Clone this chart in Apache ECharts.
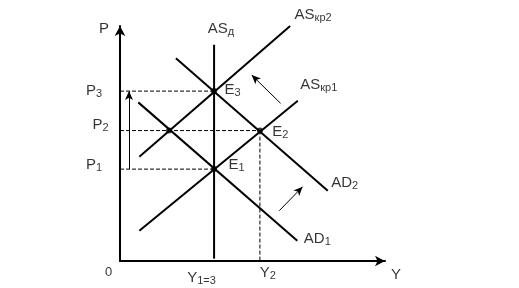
<!DOCTYPE html>
<html>
<head>
<meta charset="utf-8">
<script src="https://cdn.jsdelivr.net/npm/echarts@6/dist/echarts.min.js"></script>
<style>html,body{margin:0;padding:0;background:#fff;}#c{width:519px;height:288px;}</style>
</head>
<body>
<div id="c"></div>
<script>
// ---- values (axis range 0..100 on both axes) ----
const Y1 = 35.5, Y2 = 52.8;            // outputs
const P1 = 39.1, P2 = 55.5, P3 = 72.3; // price levels
const xLeft = 18.5;                     // AS_kr2 x AD1 at P2

const asLongRun = [[Y1, 92], [Y1, 1]];
const asShort1 = [[7.3, 12.9], [67.1, 68.2]];
const asShort2 = [[7.3, 44.4], [64.2, 100]];
const ad1 = [[6.9, 67.5], [66.9, 8.6]];
const ad2 = [[21.1, 86.3], [78.4, 29.9]];

const equilibria = [[Y1, P3], [Y2, P2], [Y1, P1], [xLeft, P2]];
const guideLines = [
  [[0, P3], [Y1, P3]],
  [[0, P2], [Y2, P2]],
  [[0, P1], [Y1, P1]],
  [[Y2, P2], [Y2, 0]]
];
const shiftArrows = [
  [[3.4, P1], [3.4, P3]],
  [[60.6, 67.1], [49.7, 79.1]],
  [[60.1, 21.4], [68.9, 31.6]]
];

const tickLabelsP = ['{m|P}{s|3}', '{m|P}{s|2}', '{m|P}{s|1}'];
const tickLabelsY = ['{m|Y}{s|1=3}', '{m|Y}{s|2}'];
const curveNames = ['{m|AS}{s|д}', '{m|AS}{s|кр2}', '{m|AS}{s|кр1}', '{m|AD}{s|2}', '{m|AD}{s|1}'];
const pointNames = ['{m|E}{s|3}', '{m|E}{s|2}', '{m|E}{s|1}'];
const axisNames = ['{m|P}', '{m|Y}', '{z|0}'];

// ---- label placement: anchor in data coords + pixel offset ----
const labelItems = [
  {t: tickLabelsP[0], a: [0, P3], o: [-26, 0]},
  {t: tickLabelsP[1], a: [0, P2], o: [-19.5, -5.6]},
  {t: tickLabelsP[2], a: [0, P1], o: [-26, -4]},
  {t: tickLabelsY[0], a: [Y1, 0], o: [-12.6, 17]},
  {t: tickLabelsY[1], a: [Y2, 0], o: [8, 12]},
  {t: curveNames[0], a: asLongRun[0], o: [7, -16]},
  {t: curveNames[1], a: asShort2[1], o: [23, -11.3]},
  {t: curveNames[2], a: asShort1[1], o: [21, -15.4]},
  {t: curveNames[3], a: ad2[1], o: [17, -7.4]},
  {t: curveNames[4], a: ad1[1], o: [20, -2.3]},
  {t: pointNames[0], a: [Y1, P3], o: [18.5, -1]},
  {t: pointNames[1], a: [Y2, P2], o: [20.5, 1]},
  {t: pointNames[2], a: [Y1, P1], o: [22.5, -4]},
  {t: axisNames[0], a: [0, 100], o: [-16, 2.7]},
  {t: axisNames[1], a: [100, 0], o: [11, 14]},
  {t: axisNames[2], a: [0, 0], o: [-11.5, 11]}
];

const FONT = '"Liberation Sans", Arial, sans-serif';
const rich = {
  m: {fontSize: 15, lineHeight: 17, fontFamily: FONT, color: '#000', verticalAlign: 'middle'},
  s: {fontSize: 11, lineHeight: 11, fontFamily: FONT, color: '#000', verticalAlign: 'bottom'},
  z: {fontSize: 13, lineHeight: 17, fontFamily: FONT, color: '#000'}
};

const solid = (data) => ({
  type: 'line', data: data, symbol: 'none', silent: true, clip: false,
  lineStyle: {color: '#000', width: 2}, z: 3
});

const series = [
  solid(asLongRun), solid(asShort1), solid(asShort2), solid(ad1), solid(ad2)
];
guideLines.forEach(g => series.push({
  type: 'line', data: g, symbol: 'none', silent: true,
  lineStyle: {color: '#000', width: 1, type: [4, 2]}, z: 2
}));
series.push({
  type: 'scatter', data: equilibria, symbol: 'circle', symbolSize: 6,
  itemStyle: {color: '#000'}, silent: true, z: 5
});
series.push({
  type: 'line', data: [], silent: true,
  markLine: {
    silent: true, animation: false,
    symbol: ['none', 'arrow'], symbolSize: [6, 9],
    label: {show: false},
    lineStyle: {color: '#000', width: 1, type: 'solid'},
    data: shiftArrows.map(s => [{coord: s[0]}, {coord: s[1]}])
  }
});
series.push({
  type: 'scatter', symbolSize: 0, silent: true, z: 10,
  data: labelItems.map(l => ({
    value: l.a,
    label: {
      show: true, position: 'inside', offset: l.o,
      formatter: l.t, rich: rich, align: 'center', verticalAlign: 'middle'
    }
  }))
});

const axisCommon = {
  type: 'value', min: 0, max: 100,
  axisLine: {show: true, symbol: ['none', 'arrow'], symbolSize: [8, 10],
             lineStyle: {color: '#000', width: 2}},
  axisTick: {show: false}, axisLabel: {show: false}, splitLine: {show: false}
};

const chart = echarts.init(document.getElementById('c'), null, {renderer: 'canvas'});
chart.setOption({
  animation: false,
  backgroundColor: '#fff',
  grid: {left: 120, right: 134, top: 26, bottom: 27, containLabel: false, outerBoundsMode: 'none'},
  xAxis: Object.assign({}, axisCommon),
  yAxis: Object.assign({}, axisCommon),
  series: series
});
</script>
</body>
</html>
